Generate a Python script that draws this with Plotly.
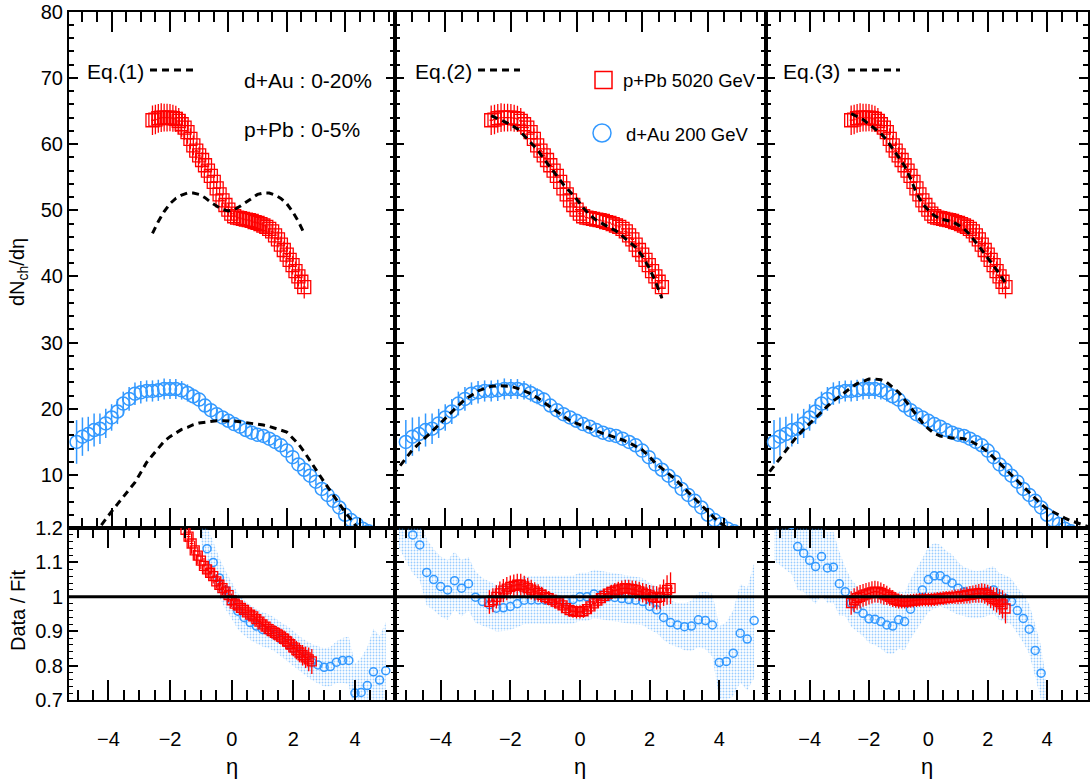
import plotly.graph_objects as go

W, H = 1091, 781
BLUE = "#3399ff"
RED = "#ff0000"
FONT = "Liberation Sans, Arial, Helvetica, sans-serif"

# ---------------- data: p+Pb 5020 GeV, 0-5% ----------------
ppb_eta = [-2.6, -2.5, -2.4, -2.3, -2.2, -2.1, -2.0, -1.9, -1.8, -1.7, -1.6, -1.5, -1.4,
           -1.3, -1.2, -1.1, -1.0, -0.9, -0.8, -0.7, -0.6, -0.5, -0.4, -0.3, -0.2, -0.1,
           0.0, 0.1, 0.2, 0.3, 0.4, 0.5, 0.6, 0.7, 0.8, 0.9, 1.0, 1.1, 1.2, 1.3, 1.4,
           1.5, 1.6, 1.7, 1.8, 1.9, 2.0, 2.1, 2.2, 2.3, 2.4, 2.5, 2.6]
ppb_dndeta = [63.6, 63.7, 63.9, 64.0, 64.0, 64.0, 64.0, 63.9, 63.8, 63.5, 63.0, 62.5, 61.8,
              60.8, 59.8, 59.0, 58.3, 57.6, 56.8, 56.0, 55.2, 54.3, 53.3, 52.4, 51.5, 50.8,
              50.1, 49.5, 49.1, 48.9, 48.8, 48.7, 48.6, 48.5, 48.4, 48.2, 48.1, 47.9, 47.7,
              47.5, 47.2, 46.8, 46.2, 45.6, 44.8, 44.0, 43.3, 42.5, 41.7, 40.8, 40.0, 39.2, 38.4]
ppb_relerr = [0.035, 0.035, 0.034, 0.034, 0.033, 0.033, 0.032, 0.032, 0.031, 0.031, 0.030,
              0.030, 0.028, 0.026, 0.025, 0.023, 0.022, 0.021, 0.020, 0.020, 0.020, 0.020,
              0.020, 0.020, 0.020, 0.020, 0.020, 0.020, 0.020, 0.020, 0.020, 0.020, 0.020,
              0.020, 0.020, 0.021, 0.022, 0.022, 0.023, 0.024, 0.025, 0.025, 0.026, 0.027,
              0.028, 0.029, 0.030, 0.032, 0.034, 0.036, 0.038, 0.042, 0.045]

# ratios data / fit for p+Pb in each column
ppb_ratio_eq1 = [None] * 11 + [
    1.195, 1.175, 1.155, 1.135, 1.12, 1.105, 1.09, 1.08, 1.07, 1.06, 1.045, 1.035,
    1.025, 1.015, 1.005, 0.99, 0.98, 0.975, 0.968, 0.962, 0.955, 0.948, 0.943, 0.935,
    0.928, 0.92, 0.913, 0.906, 0.9, 0.895, 0.89, 0.884, 0.878, 0.87, 0.862, 0.853,
    0.845, 0.838, 0.83, 0.824, 0.818, 0.812]
ppb_ratio_eq2 = [0.985, 0.99, 1.0, 1.01, 1.018, 1.024, 1.029, 1.032, 1.035, 1.035, 1.03,
                 1.025, 1.021, 1.016, 1.011, 1.006, 1.0, 0.996, 0.991, 0.986, 0.981, 0.975,
                 0.967, 0.961, 0.958, 0.956, 0.956, 0.958, 0.964, 0.972, 0.981, 0.989,
                 0.996, 1.003, 1.009, 1.014, 1.018, 1.021, 1.024, 1.025, 1.024, 1.022, 1.02,
                 1.016, 1.012, 1.008, 1.004, 1.0, 0.997, 1.0, 1.012, 1.02, 1.025]
ppb_ratio_eq3 = [0.982, 0.99, 0.996, 1.0, 1.004, 1.007, 1.01, 1.013, 1.015, 1.014, 1.011,
                 1.007, 1.004, 1.0, 0.995, 0.991, 0.988, 0.987, 0.986, 0.987, 0.988, 0.989,
                 0.99, 0.991, 0.992, 0.992, 0.992, 0.992, 0.993, 0.994, 0.995, 0.996, 0.997,
                 0.998, 0.999, 1.0, 1.0, 1.002, 1.003, 1.005, 1.006, 1.008, 1.009, 1.01,
                 1.011, 1.009, 1.005, 0.999, 0.994, 0.99, 0.985, 0.978, 0.966]

# ---------------- data: d+Au 200 GeV, 0-20% ----------------
dau_eta = [-5.2, -5.0, -4.8, -4.6, -4.4, -4.2, -4.0, -3.8, -3.6, -3.4, -3.2, -3.0, -2.8,
           -2.6, -2.4, -2.2, -2.0, -1.8, -1.6, -1.4, -1.2, -1.0, -0.8, -0.6, -0.4, -0.2,
           0.0, 0.2, 0.4, 0.6, 0.8, 1.0, 1.2, 1.4, 1.6, 1.8, 2.0, 2.2, 2.4, 2.6, 2.8, 3.0,
           3.2, 3.4, 3.6, 3.8, 4.0, 4.2, 4.4, 4.6, 4.8, 5.0]
dau_dndeta = [15.0, 15.8, 16.2, 16.8, 17.0, 17.8, 18.7, 19.6, 20.8, 21.5, 22.3, 22.5, 22.7,
              22.7, 22.8, 23.0, 23.0, 23.0, 22.8, 22.4, 21.9, 21.4, 20.5, 19.8, 19.2, 18.7,
              18.2, 17.7, 17.3, 16.8, 16.4, 16.1, 15.9, 15.5, 15.0, 14.5, 13.7, 12.7, 11.6,
              10.8, 9.9, 9.0, 7.9, 7.0, 6.1, 5.1, 4.0, 3.2, 2.6, 1.9, 1.5, 1.2]
dau_err = [3.3, 2.9, 2.6, 2.5, 2.3, 2.2, 2.0, 1.9, 1.8, 1.8, 1.7, 1.7, 1.6, 1.6, 1.6, 1.6,
           1.5, 1.5, 1.4, 1.3, 1.2, 1.1, 1.0, 0.9, 0.8, 0.8, 0.8, 0.7, 0.7, 0.7, 0.7, 0.7,
           0.7, 0.7, 0.6, 0.6, 0.6, 0.6, 0.5, 0.5, 0.5, 0.5, 0.4, 0.4, 0.4, 0.4, 0.3, 0.3,
           0.3, 0.3, 0.3, 0.3]

dau_ratio_eq1 = [None] * 21 + [
    1.23, 1.14, 1.10, 1.055, 1.02, 0.99, 0.958, 0.94, 0.925, 0.915, 0.905, 0.9, 0.89,
    0.877, 0.865, 0.85, 0.835, 0.822, 0.81, 0.802, 0.795, 0.797, 0.81, 0.815, 0.815,
    0.72, 0.722, 0.742, 0.782, 0.758, 0.785]
dau_ratio_eq2 = [1.27, 1.23, 1.18, 1.151, 1.071, 1.05, 1.03, 1.02, 1.047, 1.025, 1.038,
                 0.999, 0.986, 0.977, 0.967, 0.968, 0.972, 0.98, 0.99, 0.991, 0.991, 0.99,
                 0.99, 0.991, 0.99, 0.992, 1.0, 1.0, 1.008, 1.005, 1.0, 0.998, 0.995,
                 0.992, 0.99, 0.986, 0.972, 0.962, 0.94, 0.925, 0.918, 0.913, 0.915, 0.933,
                 0.931, 0.918, 0.809, 0.812, 0.836, 0.894, 0.877, 0.931]
dau_ratio_eq3 = [1.3, 1.27, 1.24, 1.21, 1.146, 1.127, 1.106, 1.088, 1.117, 1.084, 1.086,
                 1.038, 1.015, 0.982, 0.965, 0.952, 0.936, 0.935, 0.928, 0.918, 0.915,
                 0.933, 0.928, 0.964, 0.991, 1.02, 1.05, 1.061, 1.061, 1.05, 1.04, 1.025,
                 1.015, 1.01, 1.006, 1.008, 1.015, 1.02, 1.0, 0.995, 0.986, 0.96, 0.937,
                 0.906, 0.844, 0.778, 0.66] + [None] * 5
# relative half-width of the shaded d+Au uncertainty band in each ratio panel
dau_band_eq1 = [0.12, 0.11, 0.10, 0.09, 0.085, 0.08, 0.075, 0.07, 0.065, 0.065, 0.06, 0.06,
                0.055, 0.055, 0.055, 0.055, 0.055, 0.055, 0.055, 0.055, 0.055, 0.055, 0.055,
                0.055, 0.055, 0.055, 0.055, 0.055, 0.055, 0.055, 0.055, 0.055, 0.055, 0.055,
                0.055, 0.058, 0.06, 0.06, 0.062, 0.065, 0.068, 0.07, 0.072, 0.075, 0.08,
                0.085, 0.12, 0.14, 0.15, 0.16, 0.17, 0.18]
dau_band_eq2 = [0.10, 0.10, 0.095, 0.09, 0.09, 0.085, 0.085, 0.085, 0.08, 0.08, 0.075, 0.075,
                0.07, 0.07, 0.07, 0.07, 0.07, 0.07, 0.07, 0.07, 0.07, 0.07, 0.07, 0.07,
                0.07, 0.07, 0.07, 0.07, 0.07, 0.07, 0.07, 0.07, 0.07, 0.07, 0.07, 0.07,
                0.07, 0.07, 0.07, 0.07, 0.07, 0.075, 0.08, 0.085, 0.09, 0.10, 0.13, 0.14,
                0.15, 0.16, 0.17, 0.18]
dau_band_eq3 = [0.15, 0.14, 0.13, 0.12, 0.11, 0.10, 0.10, 0.10, 0.10, 0.095, 0.095, 0.09,
                0.07, 0.07, 0.068, 0.07, 0.075, 0.08, 0.085, 0.09, 0.09, 0.09, 0.09, 0.09,
                0.09, 0.09, 0.09, 0.09, 0.085, 0.08, 0.08, 0.075, 0.07, 0.07, 0.068, 0.068,
                0.068, 0.068, 0.068, 0.068, 0.068, 0.07, 0.075, 0.08, 0.09, 0.10, 0.12,
                0.13, 0.14, 0.15, 0.16, 0.17]

# ---------------- fit curves ----------------
fit_ppb_eta = [-2.6, -2.4, -2.2, -2.0, -1.8, -1.6, -1.4, -1.2, -1.0, -0.8, -0.6, -0.4, -0.2,
               0.0, 0.2, 0.4, 0.6, 0.8, 1.0, 1.2, 1.4, 1.6, 1.8, 2.0, 2.2, 2.4, 2.6]
fit1_ppb = [46.5, 48.3, 49.8, 51.0, 51.8, 52.3, 52.6, 52.6, 52.4, 51.9, 51.2, 50.6, 50.1,
            49.9, 50.1, 50.6, 51.2, 51.9, 52.4, 52.6, 52.6, 52.3, 51.8, 51.0, 49.8, 48.3, 46.5]
fit2_ppb = [64.3, 63.9, 63.4, 62.9, 62.3, 61.3, 60.3, 59.2, 57.8, 56.5, 55.2, 53.9, 52.8,
            51.7, 50.4, 49.3, 48.5, 47.9, 47.4, 46.9, 46.1, 45.3, 44.4, 43.1, 41.4, 39.3, 36.7]
fit3_ppb = [64.6, 64.2, 63.7, 63.0, 62.3, 61.6, 60.6, 59.3, 58.0, 56.7, 54.8, 52.6, 51.0,
            50.0, 49.2, 48.7, 48.5, 48.3, 47.8, 47.2, 46.3, 45.2, 44.0, 42.8, 41.6, 40.4, 39.0]

fit1_dau_eta = [-4.6, -4.4, -4.2, -4.0, -3.8, -3.6, -3.4, -3.2, -3.0, -2.8, -2.6, -2.4, -2.2,
                -2.0, -1.8, -1.6, -1.4, -1.2, -1.0, -0.8, -0.6, -0.4, -0.2, 0.0, 0.2, 0.4,
                0.6, 0.8, 1.0, 1.2, 1.4, 1.6, 1.8, 2.0, 2.2, 2.4, 2.6, 2.8, 3.0, 3.2, 3.4,
                3.6, 3.8, 4.0, 4.2, 4.4, 4.6]
fit1_dau = [1.0, 2.2, 3.4, 4.5, 5.6, 6.7, 7.7, 8.9, 10.4, 11.9, 13.0, 14.1, 15.1, 15.8,
            16.4, 16.9, 17.2, 17.6, 17.85, 18.0, 18.1, 18.2, 18.2, 18.2, 18.15, 18.05, 17.95,
            17.8, 17.7, 17.55, 17.35, 17.1, 16.8, 16.5, 15.6, 14.7, 13.5, 12.1, 10.8, 9.5,
            8.2, 6.9, 5.6, 4.4, 3.3, 2.2, 1.0]
fit2_dau_eta = [-5.6, -5.4, -5.2, -5.0, -4.8, -4.6, -4.4, -4.2, -4.0, -3.8, -3.6, -3.4, -3.2,
                -3.0, -2.8, -2.6, -2.4, -2.2, -2.0, -1.8, -1.6, -1.4, -1.2, -1.0, -0.8, -0.6,
                -0.4, -0.2, 0.0, 0.2, 0.4, 0.6, 0.8, 1.0, 1.2, 1.4, 1.6, 1.8, 2.0, 2.2, 2.4,
                2.6, 2.8, 3.0, 3.2, 3.4, 3.6, 3.8, 4.0, 4.2, 4.4, 4.6]
fit2_dau = [10.0, 11.2, 12.5, 13.8, 14.8, 15.7, 16.6, 17.6, 18.6, 19.6, 20.5, 21.4, 22.1,
            22.7, 23.1, 23.4, 23.5, 23.5, 23.4, 23.1, 22.7, 22.3, 21.7, 21.0, 20.3, 19.6,
            18.9, 18.2, 17.8, 17.4, 17.0, 16.6, 16.3, 16.0, 15.7, 15.3, 14.9, 14.4, 13.8,
            12.9, 11.8, 11.0, 10.2, 9.4, 8.4, 7.4, 6.4, 5.4, 4.4, 3.5, 2.7, 1.9]
fit3_dau_eta = [-5.6, -5.4, -5.2, -5.0, -4.8, -4.6, -4.4, -4.2, -4.0, -3.8, -3.6, -3.4, -3.2,
                -3.0, -2.8, -2.6, -2.4, -2.2, -2.0, -1.8, -1.6, -1.4, -1.2, -1.0, -0.8, -0.6,
                -0.4, -0.2, 0.0, 0.2, 0.4, 0.6, 0.8, 1.0, 1.2, 1.4, 1.6, 1.8, 2.0, 2.2, 2.4,
                2.6, 2.8, 3.0, 3.2, 3.4, 3.6, 3.8, 4.0, 4.2, 4.4, 4.6, 4.8, 5.0, 5.2, 5.4]
fit3_dau = [9.1, 10.2, 11.3, 12.5, 13.7, 14.9, 16.0, 16.9, 17.8, 18.7, 19.5, 20.4, 21.2,
            21.9, 22.6, 23.2, 23.8, 24.2, 24.5, 24.5, 24.4, 24.0, 23.3, 22.5, 21.4, 20.2,
            19.0, 17.9, 17.0, 16.3, 15.9, 15.7, 15.6, 15.6, 15.5, 15.2, 14.7, 14.2, 13.5,
            12.7, 11.8, 10.9, 10.0, 9.1, 8.2, 7.3, 6.4, 5.6, 4.9, 4.4, 3.9, 3.5, 3.1, 2.8,
            2.5, 2.2]

# ---------------- text ----------------
fit_labels = ["Eq.(1)", "Eq.(2)", "Eq.(3)"]
centrality_labels = ["d+Au : 0-20%", "p+Pb : 0-5%"]
legend_labels = ["p+Pb 5020 GeV", "d+Au 200 GeV"]
ytitle_top = "dN<sub>ch</sub>/dη"
ytitle_bot = "Data / Fit"
xtitle = "η"

# ---------------- layout geometry (pixels) ----------------
col_px = [(69, 395), (395, 766), (766, 1088)]
top_px = (11.7, 528)
bot_px = (528, 700)
top_xrange = [[-5.46, 5.71], [-5.53, 5.77], [-5.47, 5.38]]
bot_xrange = [[-5.28, 5.30], [-5.31, 5.34], [-5.47, 5.38]]


def fx(px):
    return px / W


def fy(py):
    return 1 - py / H


fig = go.Figure()

ppb_fits = [fit1_ppb, fit2_ppb, fit3_ppb]
dau_fits = [(fit1_dau_eta, fit1_dau), (fit2_dau_eta, fit2_dau), (fit3_dau_eta, fit3_dau)]
ppb_ratios = [ppb_ratio_eq1, ppb_ratio_eq2, ppb_ratio_eq3]
dau_ratios = [dau_ratio_eq1, dau_ratio_eq2, dau_ratio_eq3]
dau_bands = [dau_band_eq1, dau_band_eq2, dau_band_eq3]

ppb_err = [v * r for v, r in zip(ppb_dndeta, ppb_relerr)]
DASH = "7px,5px"

for i in range(3):
    xt, yt = f"x{i + 1}", f"y{i + 1}"
    xb, yb = f"x{i + 4}", f"y{i + 4}"
    # --- top panel ---
    fig.add_trace(go.Scatter(
        x=dau_eta, y=dau_dndeta, xaxis=xt, yaxis=yt, mode="markers",
        marker=dict(symbol="circle-open", size=13, color=BLUE, line=dict(width=1.5, color=BLUE)),
        error_y=dict(type="data", array=dau_err, color=BLUE, thickness=1.5, width=0),
        showlegend=False))
    fig.add_trace(go.Scatter(
        x=ppb_eta, y=ppb_dndeta, xaxis=xt, yaxis=yt, mode="markers",
        marker=dict(symbol="square-open", size=13, color=RED, line=dict(width=1.3, color=RED)),
        error_y=dict(type="data", array=ppb_err, color=RED, thickness=1.3, width=0),
        error_x=dict(type="constant", value=0.05, color=RED, thickness=1.3, width=0),
        showlegend=False))
    fe, fv = dau_fits[i]
    fig.add_trace(go.Scatter(x=fe, y=fv, xaxis=xt, yaxis=yt, mode="lines",
                             line=dict(color="black", width=3, dash=DASH), showlegend=False))
    fig.add_trace(go.Scatter(x=fit_ppb_eta, y=ppb_fits[i], xaxis=xt, yaxis=yt, mode="lines",
                             line=dict(color="black", width=3, dash=DASH), showlegend=False))
    # --- ratio panel ---
    pts = [(e, r, b) for e, r, b in zip(dau_eta, dau_ratios[i], dau_bands[i]) if r is not None]
    up = [(e, r * (1 + b)) for e, r, b in pts]
    lo = [(e, r * (1 - b)) for e, r, b in pts]
    poly = up + lo[::-1]
    fig.add_trace(go.Scatter(
        x=[p[0] for p in poly], y=[p[1] for p in poly], xaxis=xb, yaxis=yb,
        mode="lines", line=dict(width=0, color="rgba(0,0,0,0)"), fill="toself",
        fillcolor="rgba(0,0,0,0)",
        fillpattern=dict(shape=".", fgcolor=BLUE, bgcolor="rgba(0,0,0,0)", size=3,
                         solidity=0.3),
        hoverinfo="skip", showlegend=False))
    fig.add_trace(go.Scatter(
        x=dau_eta, y=dau_ratios[i], xaxis=xb, yaxis=yb, mode="markers",
        marker=dict(symbol="circle-open", size=8, color=BLUE, line=dict(width=1.5, color=BLUE)),
        showlegend=False))
    rerr = [None if r is None else r * e for r, e in zip(ppb_ratios[i], ppb_relerr)]
    fig.add_trace(go.Scatter(
        x=ppb_eta, y=ppb_ratios[i], xaxis=xb, yaxis=yb, mode="markers",
        marker=dict(symbol="square-open", size=9, color=RED, line=dict(width=1.3, color=RED)),
        error_y=dict(type="data", array=rerr, color=RED, thickness=1.3, width=0),
        error_x=dict(type="constant", value=0.06, color=RED, thickness=1.3, width=0),
        showlegend=False))

tickfont = dict(family=FONT, size=20, color="black")
base = dict(showline=True, linecolor="black", linewidth=2, mirror="allticks",
            ticks="inside", tickcolor="black", tickwidth=1.5, showgrid=False,
            zeroline=False, tickfont=tickfont, fixedrange=True, automargin=False,
            ticklabeloverflow="allow")

layout = dict(width=W, height=H, margin=dict(l=0, r=0, t=0, b=0, autoexpand=False),
              paper_bgcolor="white", plot_bgcolor="white", showlegend=False,
              font=dict(family=FONT, color="black"))

for i in range(3):
    x0, x1 = col_px[i]
    xdom = [fx(x0), min(fx(x1), 1.0)]
    n_t, n_b = i + 1, i + 4
    sfx_t = "" if n_t == 1 else str(n_t)
    sfx_b = str(n_b)
    xminor = dict(dtick=0.5, tick0=0, ticklen=10, ticks="inside", tickcolor="black",
                  tickwidth=1.5, showgrid=False)
    layout["xaxis" + sfx_t] = dict(base, domain=xdom, range=top_xrange[i], anchor="y" + sfx_t,
                                   dtick=2, tick0=0, ticklen=20, showticklabels=False,
                                   minor=xminor)
    layout["yaxis" + sfx_t] = dict(base, domain=[fy(top_px[1]), fy(top_px[0])],
                                   range=[2, 80.001], anchor="x" + sfx_t, dtick=10, tick0=0,
                                   ticklen=9, showticklabels=(i == 0), ticklabelstandoff=0,
                                   minor=dict(dtick=2, tick0=0, ticklen=5, ticks="inside",
                                              tickcolor="black", tickwidth=1.5,
                                              showgrid=False))
    layout["xaxis" + sfx_b] = dict(base, domain=xdom, range=bot_xrange[i], anchor="y" + sfx_b,
                                   dtick=2, tick0=0, ticklen=20, showticklabels=True,
                                   ticklabelstandoff=20, minor=xminor)
    layout["yaxis" + sfx_b] = dict(base, domain=[fy(bot_px[1]), fy(bot_px[0])],
                                   range=[0.6999, 1.2001], anchor="x" + sfx_b, dtick=0.1,
                                   tick0=0, ticklen=9, showticklabels=(i == 0),
                                   ticklabelstandoff=0,
                                   minor=dict(dtick=0.02, tick0=0, ticklen=4, ticks="inside",
                                              tickcolor="black", tickwidth=1.2,
                                              showgrid=False))

shapes = []
annotations = []
for i in range(3):
    # reference line at 1 in the ratio panels
    shapes.append(dict(type="line", xref=f"x{i + 4} domain", yref=f"y{i + 4}", x0=0, x1=1,
                       y0=1, y1=1, line=dict(color="black", width=3), layer="above"))

# fit legends (text + dashed sample)
eq_text_px = [(85, 71), (413, 71), (781, 71)]
eq_line_px = [(150, 194), (478, 520), (848, 900)]
for i in range(3):
    tx, ty = eq_text_px[i]
    annotations.append(dict(text=fit_labels[i], x=fx(tx), y=fy(ty), xref="paper", yref="paper",
                            xanchor="left", yanchor="middle", showarrow=False,
                            font=dict(family=FONT, size=21, color="black")))
    lx0, lx1 = eq_line_px[i]
    shapes.append(dict(type="line", xref="paper", yref="paper", x0=fx(lx0), x1=fx(lx1),
                       y0=fy(70), y1=fy(70), line=dict(color="black", width=3, dash=DASH)))

annotations.append(dict(text=centrality_labels[0], x=fx(242), y=fy(81), xref="paper",
                        yref="paper", xanchor="left", yanchor="middle", showarrow=False,
                        font=dict(family=FONT, size=21, color="black")))
annotations.append(dict(text=centrality_labels[1], x=fx(242), y=fy(130), xref="paper",
                        yref="paper", xanchor="left", yanchor="middle", showarrow=False,
                        font=dict(family=FONT, size=21, color="black")))

# marker legend in the middle panel
shapes.append(dict(type="rect", xref="paper", yref="paper", x0=fx(595), x1=fx(612),
                   y0=fy(88.5), y1=fy(71.5), line=dict(color=RED, width=1.5)))
shapes.append(dict(type="circle", xref="paper", yref="paper", x0=fx(593), x1=fx(611),
                   y0=fy(142), y1=fy(124), line=dict(color=BLUE, width=1.5)))
annotations.append(dict(text=legend_labels[0], x=fx(621), y=fy(81), xref="paper", yref="paper",
                        xanchor="left", yanchor="middle", showarrow=False,
                        font=dict(family=FONT, size=18.5, color="black")))
annotations.append(dict(text=legend_labels[1], x=fx(624), y=fy(135), xref="paper",
                        yref="paper", xanchor="left", yanchor="middle", showarrow=False,
                        font=dict(family=FONT, size=18.5, color="black")))

# axis titles
annotations.append(dict(text=ytitle_top, x=fx(18), y=fy(272), xref="paper", yref="paper",
                        xanchor="center", yanchor="middle", textangle=-90, showarrow=False,
                        font=dict(family=FONT, size=20, color="black")))
annotations.append(dict(text=ytitle_bot, x=fx(18), y=fy(610), xref="paper", yref="paper",
                        xanchor="center", yanchor="middle", textangle=-90, showarrow=False,
                        font=dict(family=FONT, size=20, color="black")))
for i in range(3):
    cx = (col_px[i][0] + col_px[i][1]) / 2
    annotations.append(dict(text=xtitle, x=fx(cx), y=fy(766), xref="paper", yref="paper",
                            xanchor="center", yanchor="middle", showarrow=False,
                            font=dict(family=FONT, size=22, color="black")))

layout["shapes"] = shapes
layout["annotations"] = annotations
fig.update_layout(**layout)
# remove the page's default 8px body margin so the figure sits at the window origin
fig.write_html("out.html", config={"displayModeBar": False},
               post_script="document.body.style.margin='0';")
